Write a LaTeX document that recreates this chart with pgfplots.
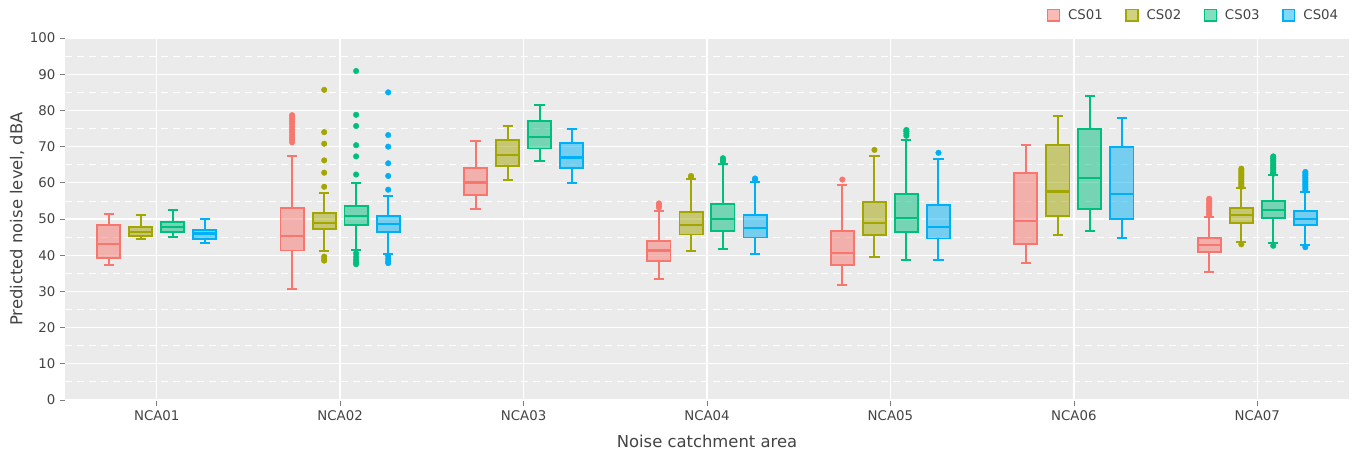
\documentclass[border=0pt]{standalone}
\usepackage{pgfplots}
\pgfplotsset{compat=1.18}
\usepgfplotslibrary{statistics}
\usepackage{fontspec}
\setmainfont{DejaVu Sans}
\definecolor{c1}{HTML}{F8766D}
\definecolor{c2}{HTML}{A3A500}
\definecolor{c3}{HTML}{00BF7D}
\definecolor{c4}{HTML}{00B0F6}
\definecolor{bg}{HTML}{EBEBEB}
\definecolor{txt}{HTML}{444444}
\pgfplotsset{
 bstyle/.style={draw=#1, fill=#1, fill opacity=0.5, line width=1.4pt, solid,
   mark=*, mark size=2.1pt,
   mark options={draw=#1, fill=#1, fill opacity=1, draw opacity=1, line width=0.3pt}},
 legsq/.style={draw=#1, fill=#1, fill opacity=0.5, line width=1pt,
   legend image code/.code={\draw[##1] (0pt,-4.4pt) rectangle (8.8pt,4.4pt);}},
}
\newcommand{\bx}[8]{\addplot[bstyle=#1, forget plot, boxplot prepared={draw position=#2, lower whisker=#3, lower quartile=#4, median=#5, upper quartile=#6, upper whisker=#7}] coordinates {#8};}
\begin{document}
\begin{tikzpicture}
\path[use as bounding box] (-48.75pt,-40.5pt) rectangle (972pt,300.75pt);
\begin{axis}[
 width=963pt, height=273pt, scale only axis, at={(0,0)}, anchor=south west,
 xmin=-0.5, xmax=6.5, ymin=-0.3, ymax=100.3,
 xtick={0,...,6}, xticklabels={NCA01,NCA02,NCA03,NCA04,NCA05,NCA06,NCA07},
 ytick={0,10,...,100}, minor ytick={5,15,...,95},
 xmajorgrids, ymajorgrids, yminorgrids,
 major grid style={white, line width=1pt},
 minor grid style={white, line width=0.6pt, dash pattern=on 5pt off 4pt},
 axis line style={draw=none},
 tick align=outside, tick pos=left,
 major tick length=3.75pt, minor tick length=0pt,
 tick style={color=txt!70, line width=0.5pt},
 ticklabel style={font=\fontsize{10}{12}\selectfont, color=txt},
 /pgf/number format/assume math mode=true,
 xlabel={Noise catchment area}, ylabel={Predicted noise level, dBA},
 every axis x label/.style={at={(axis description cs:0.5,-0.11)}, anchor=center, font=\fontsize{12.3}{14}\selectfont, color=txt},
 every axis y label/.style={at={(axis description cs:-0.0374,0.5)}, anchor=center, rotate=90, font=\fontsize{12.3}{14}\selectfont, color=txt},
 axis background/.style={fill=bg},
 boxplot/draw direction=y,
 boxplot/box extend=0.126,
 boxplot/whisker extend=0.055,
 boxplot/every median/.style={line width=1.6pt, solid},
 boxplot/every whisker/.style={line width=1.5pt, solid},
 legend columns=4,
 legend style={at={(axis description cs:0.997,1.06)}, anchor=east, draw=none, fill=none,
   font=\fontsize{10}{12}\selectfont, text=txt,
   /tikz/every odd column/.append style={column sep=4pt},
   /tikz/every even column/.append style={column sep=15pt}},
]
\addlegendimage{legsq=c1}\addlegendentry{CS01}
\addlegendimage{legsq=c2}\addlegendentry{CS02}
\addlegendimage{legsq=c3}\addlegendentry{CS03}
\addlegendimage{legsq=c4}\addlegendentry{CS04}
% NCA01
\bx{c1}{-0.262}{37.3}{39.3}{43.2}{48.3}{51.5}{}
\bx{c2}{-0.087}{44.4}{45.2}{46.5}{47.9}{51.0}{}
\bx{c3}{0.087}{45.1}{46.3}{47.9}{49.2}{52.4}{}
\bx{c4}{0.262}{43.5}{44.5}{46.0}{47.0}{50.1}{}
% NCA02
\bx{c1}{0.738}{30.6}{41.3}{45.3}{53.1}{67.4}{(0,78.7) (0,78.2) (0,77.6) (0,77.0) (0,76.3) (0,75.5) (0,74.7) (0,74.0) (0,73.2) (0,72.5) (0,71.9) (0,71.2)}
\bx{c2}{0.913}{41.2}{47.2}{49.0}{51.6}{57.2}{(0,85.7) (0,74.0) (0,70.8) (0,66.2) (0,62.8) (0,58.9) (0,39.6) (0,39.0) (0,38.5)}
\bx{c3}{1.087}{41.5}{48.3}{50.8}{53.7}{59.9}{(0,90.9) (0,78.8) (0,75.7) (0,70.4) (0,67.3) (0,62.3) (0,40.5) (0,39.5) (0,38.7) (0,38.0) (0,37.5)}
\bx{c4}{1.262}{40.3}{46.5}{48.5}{50.8}{56.4}{(0,85.0) (0,73.2) (0,70.0) (0,65.4) (0,61.9) (0,58.1) (0,39.8) (0,39.0) (0,38.3) (0,37.8)}
% NCA03
\bx{c1}{1.738}{52.9}{56.7}{60.1}{64.0}{71.6}{}
\bx{c2}{1.913}{60.8}{64.7}{67.8}{71.9}{75.8}{}
\bx{c3}{2.087}{66.1}{69.5}{72.6}{77.0}{81.6}{}
\bx{c4}{2.262}{60.0}{64.0}{67.0}{71.0}{75.0}{}
% NCA04
\bx{c1}{2.738}{33.4}{38.3}{41.3}{44.0}{52.1}{(0,54.3) (0,53.8) (0,53.2)}
\bx{c2}{2.913}{41.2}{45.7}{48.3}{52.0}{61.0}{(0,61.9) (0,61.6)}
\bx{c3}{3.087}{41.8}{46.6}{49.9}{54.1}{65.1}{(0,66.8) (0,66.3) (0,65.8)}
\bx{c4}{3.262}{40.3}{44.9}{47.4}{51.2}{60.2}{(0,61.2) (0,60.9)}
% NCA05
\bx{c1}{3.738}{31.7}{37.2}{40.7}{46.6}{59.4}{(0,60.9)}
\bx{c2}{3.913}{39.5}{45.5}{48.9}{54.6}{67.4}{(0,69.1)}
\bx{c3}{4.087}{38.8}{46.4}{50.3}{57.0}{71.9}{(0,74.6) (0,74.2) (0,73.6) (0,73.0)}
\bx{c4}{4.262}{38.7}{44.6}{47.9}{53.9}{66.7}{(0,68.3)}
% NCA06
\bx{c1}{4.738}{37.8}{43.2}{49.5}{62.6}{70.5}{}
\bx{c2}{4.913}{45.6}{50.8}{57.6}{70.5}{78.6}{}
\bx{c3}{5.087}{46.7}{52.7}{61.3}{74.8}{83.9}{}
\bx{c4}{5.262}{44.7}{49.9}{56.8}{69.8}{77.8}{}
% NCA07
\bx{c1}{5.738}{35.3}{41.0}{42.8}{44.8}{50.5}{(0,55.6) (0,55.1) (0,54.6) (0,54.1) (0,53.6) (0,53.1) (0,52.6) (0,52.1) (0,51.6) (0,51.1)}
\bx{c2}{5.913}{43.6}{49.0}{51.0}{53.0}{58.6}{(0,63.9) (0,63.4) (0,62.9) (0,62.4) (0,61.9) (0,61.4) (0,60.9) (0,60.4) (0,59.9) (0,59.4) (0,58.9) (0,43.0)}
\bx{c3}{6.087}{43.4}{50.2}{52.4}{55.0}{62.1}{(0,67.3) (0,66.8) (0,66.3) (0,65.8) (0,65.3) (0,64.8) (0,64.3) (0,63.8) (0,63.3) (0,62.8) (0,62.5) (0,42.6)}
\bx{c4}{6.262}{42.8}{48.3}{50.0}{52.1}{57.6}{(0,63.0) (0,62.5) (0,62.0) (0,61.5) (0,61.0) (0,60.5) (0,60.0) (0,59.5) (0,59.0) (0,58.5) (0,58.0) (0,42.2)}
\end{axis}
\end{tikzpicture}
\end{document}
